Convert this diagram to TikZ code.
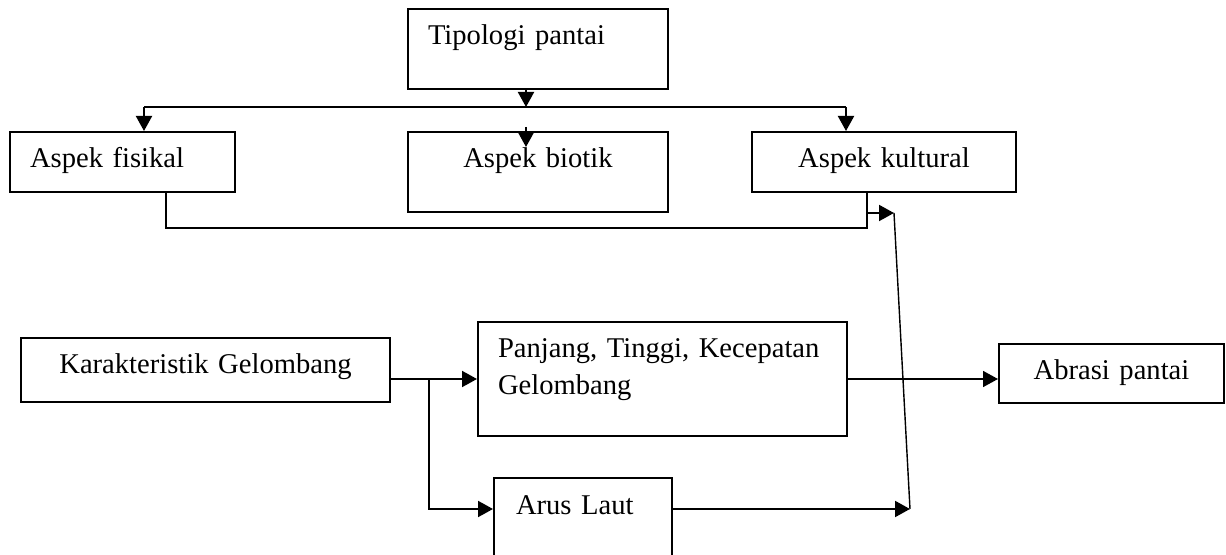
\documentclass[tikz,border=0pt]{standalone}
\usepackage{fontspec}
\setmainfont{Liberation Serif}
\usetikzlibrary{arrows.meta}
\begin{document}
\begin{tikzpicture}[x=0.5pt, y=-0.5pt, line width=1pt,
		box/.style={draw, anchor=north west, inner xsep=10pt, inner ysep=0pt, text height=18pt, font=\fontsize{14.3}{18.5}\selectfont},
		arr/.style={-{Triangle[length=7.5pt, width=8pt]}}]
				\useasboundingbox (0,0) rectangle (1226,555);
				\node[box, text width=110pt, text depth=22pt, align=left] (tipologi) at (407,8) {Tipologi pantai};
				\node[box, text width=92.5pt, text depth=12pt, align=left] (fisikal) at (9,131) {Aspek fisikal};
				\node[box, text width=110pt, text depth=22pt, align=center] (biotik) at (407,131) {Aspek biotik};
				\node[box, text width=112pt, text depth=12pt, align=center] (kultural) at (751,131) {Aspek kultural};
				\node[box, text width=164.5pt, text depth=14pt, align=center] (karakteristik) at (20,337) {Karakteristik Gelombang};
				\node[box, text width=164.5pt, text depth=39pt, align=left] (panjang) at (477,321) {Panjang, Tinggi, Kecepatan\\Gelombang};
				\node[box, text width=67pt, text depth=30pt, align=left, inner xsep=11pt] (arus) at (493,477) {Arus Laut};
				\node[box, text width=92.5pt, text depth=11.5pt, align=center] (abrasi) at (998,343) {Abrasi pantai};
				\coordinate (busL) at (144,107);
				\coordinate (busM) at (526,107);
				\coordinate (busR) at (846,107);
				\coordinate (loopL) at (166,228);
				\coordinate (loopR) at (867,228);
				\coordinate (hit) at (894,213);
				\coordinate (sink) at (910,509);
				\coordinate (fork) at (429,379);
				\draw[arr] (tipologi.south -| busM) -- (busM);
				\draw (busL) -- (busR);
				\draw[arr] (busL) -- (busL |- fisikal.north);
				\draw[arr] (busR) -- (busR |- kultural.north);
				\draw[arr] ([yshift=2pt]busM |- biotik.north) -- ++(0,20);
				\draw (fisikal.south -| loopL) -- (loopL) -- (loopR) -- (kultural.south -| loopR);
				\draw[arr] (hit -| loopR) -- (hit);
				\draw[line width=0.7pt] (hit) -- (sink);
				\draw[arr] (arus.east |- sink) -- (sink);
				\draw[arr] (karakteristik.east |- fork) -- (panjang.west |- fork);
				\draw[arr] (fork) |- (arus.west |- sink);
				\draw[arr, line width=0.8pt] (panjang.east |- fork) -- (abrasi.west |- fork);
			\end{tikzpicture}
\end{document}
